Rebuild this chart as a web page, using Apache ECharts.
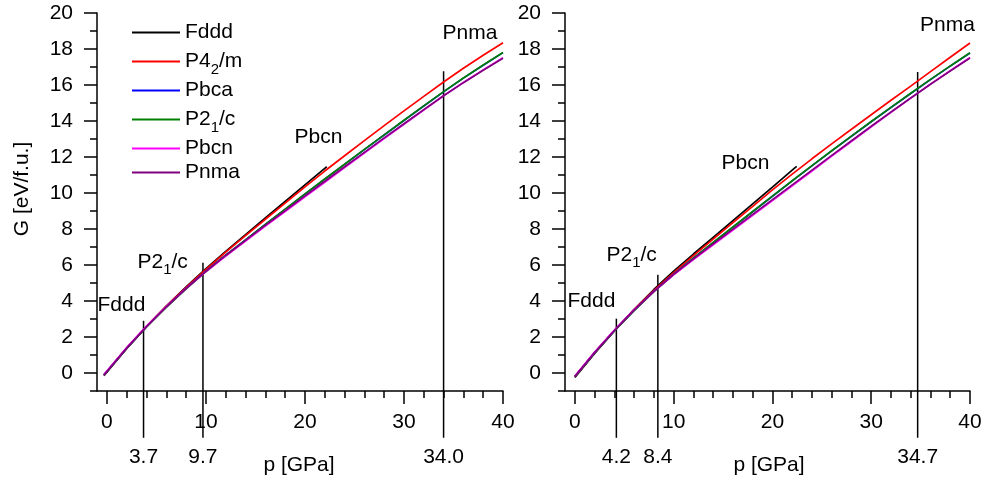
<!DOCTYPE html>
<html>
<head>
<meta charset="utf-8">
<script src="https://cdn.jsdelivr.net/npm/echarts@6/dist/echarts.min.js"></script>
<style>
  html, body { margin: 0; padding: 0; background: #ffffff; }
  #chart { width: 985px; height: 484px; }
</style>
</head>
<body>
<div id="chart"></div>
<script>
// Gibbs free energy G(p) of six candidate phases, two calculations side by side.

const phases = ['Fddd', 'P4_2/m', 'Pbca', 'P2_1/c', 'Pbcn', 'Pnma'];
const phaseColors = ['#000000', '#ff0000', '#0000ff', '#008000', '#ff00ff', '#800080'];

// tick positions / labels
const xMajorTicks = [0, 10, 20, 30, 40];
const xMinorTicks = [2, 4, 6, 8, 12, 14, 16, 18, 22, 24, 26, 28, 32, 34, 36, 38];
const yMajorTicks = [0, 2, 4, 6, 8, 10, 12, 14, 16, 18, 20];
const yMinorTicks = [-1, 1, 3, 5, 7, 9, 11, 13, 15, 17, 19];

// ---- left panel: pressure (GPa) and G (eV/f.u.)
const leftP = [-0.3, 0, 2, 4, 6, 8, 10, 12, 14, 16, 18, 20, 22, 24, 26, 28, 30, 32, 34, 36, 38, 40];
const leftFdddP = [-0.3, 0, 2, 4, 6, 8, 10, 12, 14, 16, 18, 20, 22, 22.2];
const leftFddd  = [-0.15, 0.05, 1.36, 2.58, 3.72, 4.79, 5.80, 6.76, 7.69, 8.61, 9.53, 10.45, 11.37, 11.46];
const leftP42m  = [-0.12, 0.08, 1.38, 2.59, 3.71, 4.76, 5.75, 6.71, 7.63, 8.54, 9.44, 10.34, 11.22, 12.07, 12.91, 13.74, 14.56, 15.37, 16.17, 16.93, 17.65, 18.35];
const leftPbca  = [-0.11, 0.09, 1.38, 2.57, 3.67, 4.70, 5.66, 6.55, 7.40, 8.25, 9.09, 9.94, 10.77, 11.59, 12.41, 13.22, 14.03, 14.83, 15.62, 16.38, 17.10, 17.80];
const leftP21c  = [-0.12, 0.08, 1.37, 2.56, 3.65, 4.67, 5.64, 6.54, 7.40, 8.25, 9.10, 9.95, 10.78, 11.60, 12.42, 13.23, 14.04, 14.84, 15.63, 16.39, 17.11, 17.81];
const leftPbcn  = [-0.09, 0.11, 1.41, 2.60, 3.69, 4.70, 5.63, 6.50, 7.33, 8.16, 8.97, 9.79, 10.60, 11.41, 12.22, 13.02, 13.82, 14.61, 15.40, 16.14, 16.84, 17.52];
const leftPnma  = [-0.12, 0.08, 1.38, 2.58, 3.68, 4.70, 5.65, 6.53, 7.37, 8.20, 9.02, 9.84, 10.65, 11.46, 12.26, 13.06, 13.85, 14.63, 15.40, 16.13, 16.82, 17.49];
const leftTransP   = [3.7, 9.7, 34.0];
const leftTransTop = [2.9, 6.13, 16.76];

// ---- right panel
const rightP = [0, 2, 4, 6, 8, 10, 12, 14, 16, 18, 20, 22, 24, 26, 28, 30, 32, 34, 36, 38, 40];
const rightFdddP = [0, 2, 4, 6, 8, 10, 12, 14, 16, 18, 20, 22, 22.45];
const rightFddd  = [-0.25, 1.09, 2.34, 3.54, 4.64, 5.66, 6.61, 7.54, 8.47, 9.40, 10.33, 11.27, 11.48];
const rightP42m  = [-0.20, 1.13, 2.36, 3.52, 4.59, 5.58, 6.52, 7.44, 8.35, 9.26, 10.17, 11.05, 11.90, 12.73, 13.54, 14.35, 15.15, 15.94, 16.74, 17.54, 18.33];
const rightPbca  = [-0.19, 1.13, 2.35, 3.48, 4.53, 5.49, 6.38, 7.24, 8.10, 8.96, 9.82, 10.67, 11.51, 12.34, 13.15, 13.96, 14.75, 15.53, 16.30, 17.05, 17.78];
const rightP21c  = [-0.20, 1.12, 2.34, 3.47, 4.52, 5.48, 6.38, 7.25, 8.11, 8.97, 9.83, 10.68, 11.52, 12.35, 13.16, 13.97, 14.76, 15.54, 16.31, 17.06, 17.79];
const rightPbcn  = [-0.17, 1.16, 2.38, 3.51, 4.54, 5.45, 6.30, 7.12, 7.94, 8.76, 9.58, 10.40, 11.22, 12.05, 12.86, 13.68, 14.48, 15.27, 16.05, 16.80, 17.53];
const rightPnma  = [-0.20, 1.13, 2.36, 3.50, 4.54, 5.48, 6.34, 7.17, 7.99, 8.81, 9.63, 10.45, 11.27, 12.09, 12.90, 13.71, 14.50, 15.28, 16.04, 16.78, 17.50];
const rightTransP   = [4.2, 8.4, 34.7];
const rightTransTop = [3.02, 5.46, 16.72];

// stable phase names placed over each pressure range
const leftPhaseLabels  = [['Fddd', 97.5, 305], ['P2_1/c', 137.5, 262], ['Pbcn', 294.5, 137], ['Pnma', 442.5, 33]];
const rightPhaseLabels = [['Fddd', 567.5, 301], ['P2_1/c', 606.5, 255], ['Pbcn', 721.5, 163], ['Pnma', 920, 25]];

const FONT = '"Liberation Sans", Arial, Helvetica, sans-serif';
const FS = 21;
const TRANS_BOTTOM = -3.6;   // transition markers run below the pressure axis

const rich = {
  n:   { fontFamily: FONT, fontSize: FS, color: '#000', lineHeight: 24 },
  sub: { fontFamily: FONT, fontSize: 15, color: '#000', lineHeight: 14, padding: [16, 0, 0, 0] }
};
// 'P4_2/m' -> rich text with a lowered subscript digit
function richName(name) {
  return name.split(/(_\d)/).filter(s => s.length).map(s =>
    s[0] === '_' ? '{sub|' + s.slice(1) + '}' : '{n|' + s + '}').join('');
}
function pairs(xs, ys) { return xs.map((x, i) => [x, ys[i]]); }

const grids = [
  { left: 97, top: 13, width: 406, height: 378 },
  { left: 565, top: 13, width: 405, height: 378 }
];

function mainX(gi) {
  return {
    type: 'value', gridIndex: gi, min: -1, max: 40, position: 'bottom',
    axisLine: { show: true, onZero: false, lineStyle: { color: '#000', width: 1.5 } },
    axisTick: { show: true, customValues: xMajorTicks, length: 13, lineStyle: { color: '#000', width: 1.5 } },
    axisLabel: { customValues: xMajorTicks, margin: 21, color: '#000', fontFamily: FONT, fontSize: FS },
    splitLine: { show: false }
  };
}
function minorX(gi) {
  return {
    type: 'value', gridIndex: gi, min: -1, max: 40, position: 'bottom',
    axisLine: { show: false, onZero: false },
    axisTick: { show: true, customValues: xMinorTicks, length: 7, lineStyle: { color: '#000', width: 1.5 } },
    axisLabel: { show: false }, splitLine: { show: false }
  };
}
function mainY(gi) {
  return {
    type: 'value', gridIndex: gi, min: -1, max: 20, position: 'left',
    axisLine: { show: true, onZero: false, lineStyle: { color: '#000', width: 1.5 } },
    axisTick: { show: true, customValues: yMajorTicks, length: 13, lineStyle: { color: '#000', width: 1.5 } },
    axisLabel: { customValues: yMajorTicks, margin: 24, color: '#000', fontFamily: FONT, fontSize: FS },
    splitLine: { show: false }
  };
}
function minorY(gi) {
  return {
    type: 'value', gridIndex: gi, min: -1, max: 20, position: 'left',
    axisLine: { show: false, onZero: false },
    axisTick: { show: true, customValues: yMinorTicks, length: 7, lineStyle: { color: '#000', width: 1.5 } },
    axisLabel: { show: false }, splitLine: { show: false }
  };
}

function transitionSeries(axisIdx, ps, tops) {
  return ps.map((p, i) => ({
    type: 'line', xAxisIndex: axisIdx, yAxisIndex: axisIdx, silent: true, clip: false,
    symbol: 'none', animation: false,
    lineStyle: { color: '#000', width: 1.5 },
    data: [[p, tops[i]], [p, TRANS_BOTTOM]]
  }));
}
function curve(axisIdx, name, xs, ys) {
  const c = phaseColors[phases.indexOf(name)];
  return {
    type: 'line', name: name, xAxisIndex: axisIdx, yAxisIndex: axisIdx,
    symbol: 'none', showSymbol: false, animation: false, silent: true,
    color: c, itemStyle: { color: c }, lineStyle: { color: c, width: 1.7 },
    data: pairs(xs, ys)
  };
}

const series = [].concat(
  transitionSeries(0, leftTransP, leftTransTop),
  [
    curve(0, 'Fddd', leftFdddP, leftFddd),
    curve(0, 'P4_2/m', leftP, leftP42m),
    curve(0, 'Pbca', leftP, leftPbca),
    curve(0, 'P2_1/c', leftP, leftP21c),
    curve(0, 'Pbcn', leftP, leftPbcn),
    curve(0, 'Pnma', leftP, leftPnma)
  ],
  transitionSeries(2, rightTransP, rightTransTop),
  [
    curve(2, 'Fddd', rightFdddP, rightFddd),
    curve(2, 'P4_2/m', rightP, rightP42m),
    curve(2, 'Pbca', rightP, rightPbca),
    curve(2, 'P2_1/c', rightP, rightP21c),
    curve(2, 'Pbcn', rightP, rightPbcn),
    curve(2, 'Pnma', rightP, rightPnma)
  ]
);

const chart = echarts.init(document.getElementById('chart'), null, { renderer: 'canvas' });
chart.setOption({
  backgroundColor: '#ffffff',
  animation: false,
  grid: grids,
  xAxis: [mainX(0), minorX(0), mainX(1), minorX(1)],
  yAxis: [mainY(0), minorY(0), mainY(1), minorY(1)],
  legend: {
    data: phases, orient: 'vertical', left: 132, top: 22, padding: 0,
    itemWidth: 48, itemHeight: 2, itemGap: 3, icon: 'rect',
    selectedMode: false,
    formatter: richName,
    textStyle: { fontFamily: FONT, fontSize: FS, color: '#000', rich: rich }
  },
  series: series
});

// text: axis titles, transition pressures, phase names
function textEl(text, x, y) {
  return {
    type: 'text', silent: true,
    style: { text: text, x: x, y: y, fill: '#000', font: FS + 'px ' + FONT,
      align: 'center', verticalAlign: 'middle' }
  };
}
const graphics = [];
graphics.push({
  type: 'text', silent: true, x: 22, y: 189, rotation: Math.PI / 2,
  style: { text: 'G [eV/f.u.]', x: 0, y: 0, fill: '#000', font: FS + 'px ' + FONT,
    align: 'center', verticalAlign: 'middle' }
});
graphics.push(textEl('p [GPa]', 299, 465));
graphics.push(textEl('p [GPa]', 769, 465));
leftTransP.forEach(p => {
  const x = chart.convertToPixel({ xAxisIndex: 0 }, p);
  graphics.push(textEl(p.toFixed(1), x, 457.5));
});
rightTransP.forEach(p => {
  const x = chart.convertToPixel({ xAxisIndex: 2 }, p);
  graphics.push(textEl(p.toFixed(1), x, 457.5));
});
leftPhaseLabels.concat(rightPhaseLabels).forEach(([name, x, y]) => {
  graphics.push({
    type: 'text', silent: true,
    style: { text: richName(name), rich: rich, x: x, y: y, align: 'left', verticalAlign: 'middle',
      font: FS + 'px ' + FONT, fill: '#000' }
  });
});
chart.setOption({ graphic: graphics });
</script>
</body>
</html>
